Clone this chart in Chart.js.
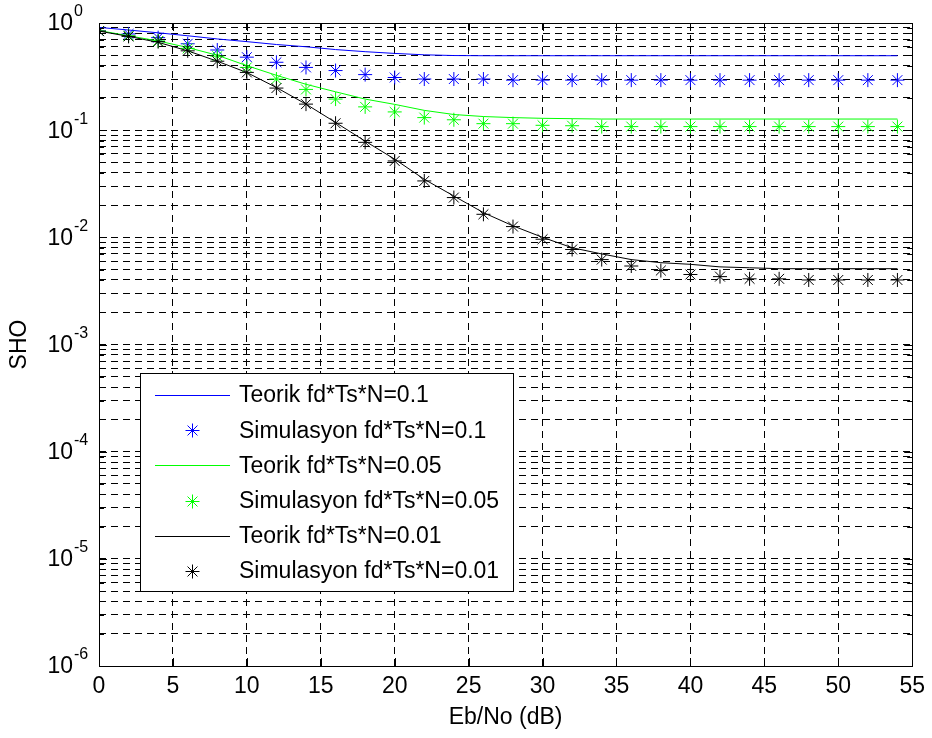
<!DOCTYPE html>
<html>
<head>
<meta charset="utf-8">
<title>SHO</title>
<script src="https://cdn.jsdelivr.net/npm/chart.js@4.4.0/dist/chart.umd.min.js"></script>
<style>
  html, body { margin: 0; padding: 0; background: #fff; }
</style>
</head>
<body>
<canvas id="sho" width="932" height="738"></canvas>
<script>
// Eb/No (dB) points
const ebno = [0, 2, 4, 6, 8, 10, 12, 14, 16, 18, 20, 22, 24, 26, 28, 30, 32, 34, 36, 38, 40, 42, 44, 46, 48, 50, 52, 54];

// fd*Ts*N = 0.1
const teorik01 = [0.91, 0.86, 0.81, 0.76, 0.71, 0.67, 0.63, 0.60, 0.565, 0.54, 0.52, 0.505, 0.497, 0.495, 0.495, 0.495, 0.495, 0.495, 0.495, 0.495, 0.495, 0.495, 0.495, 0.495, 0.495, 0.495, 0.495, 0.495];
const sim01 = [0.84, 0.79, 0.73, 0.64, 0.56, 0.48, 0.43, 0.385, 0.36, 0.33, 0.31, 0.30, 0.30, 0.30, 0.293, 0.293, 0.293, 0.293, 0.293, 0.293, 0.293, 0.293, 0.293, 0.293, 0.293, 0.293, 0.293, 0.293];

// fd*Ts*N = 0.05
const teorik005 = [0.85, 0.76, 0.68, 0.59, 0.50, 0.40, 0.325, 0.268, 0.228, 0.195, 0.174, 0.153, 0.140, 0.134, 0.131, 0.129, 0.128, 0.127, 0.127, 0.127, 0.127, 0.127, 0.127, 0.127, 0.127, 0.127, 0.127, 0.127];
const sim005 = [0.84, 0.76, 0.68, 0.58, 0.49, 0.385, 0.30, 0.24, 0.195, 0.165, 0.148, 0.131, 0.125, 0.115, 0.115, 0.111, 0.110, 0.108, 0.108, 0.108, 0.108, 0.108, 0.108, 0.108, 0.108, 0.108, 0.108, 0.108];

// fd*Ts*N = 0.01
const teorik001 = [0.84, 0.75, 0.66, 0.55, 0.44, 0.345, 0.25, 0.175, 0.118, 0.079, 0.0536, 0.0348, 0.0243, 0.017, 0.0128, 0.0100, 0.0080, 0.0070, 0.0062, 0.0058, 0.0056, 0.0053, 0.0052, 0.0051, 0.0051, 0.0051, 0.0051, 0.0051];
const sim001 = [0.84, 0.75, 0.67, 0.55, 0.44, 0.346, 0.247, 0.175, 0.116, 0.077, 0.0516, 0.0336, 0.0235, 0.0164, 0.0126, 0.0096, 0.0077, 0.0062, 0.0054, 0.0049, 0.0045, 0.0043, 0.0041, 0.0041, 0.0040, 0.0040, 0.0040, 0.0040];

const seriesLabels = [
  'Teorik fd*Ts*N=0.1', 'Simulasyon fd*Ts*N=0.1',
  'Teorik fd*Ts*N=0.05', 'Simulasyon fd*Ts*N=0.05',
  'Teorik fd*Ts*N=0.01', 'Simulasyon fd*Ts*N=0.01'
];

// axis ticks
const xTicks = [0, 5, 10, 15, 20, 25, 30, 35, 40, 45, 50, 55];
const decades = [-6, -5, -4, -3, -2, -1, 0];

const FONT = "'Liberation Sans', Arial, Helvetica, sans-serif";
const BLUE = '#0000ff', GREEN = '#00ff00', BLACK = '#000000';

function pts(arr) {
  return ebno.map((x, i) => ({ x: x, y: arr[i] }));
}

function theoryLine(label, arr, color, order) {
  return { label, data: pts(arr), borderColor: color, backgroundColor: color,
    borderWidth: 1, pointRadius: 0, showLine: true, order };
}
function simPoints(label, arr, color, order) {
  return { label, data: pts(arr), borderColor: color, backgroundColor: color,
    borderWidth: 1, pointStyle: 'star', pointRadius: 7, pointBorderWidth: 1,
    showLine: false, order };
}

// ticks inward, full box, 10^n labels and the legend inside the axes
const matlabAxes = {
  id: 'matlabAxes',
  afterDraw(chart) {
    const ctx = chart.ctx;
    const a = chart.chartArea;
    const xs = chart.scales.x, ys = chart.scales.y;
    ctx.save();
    ctx.strokeStyle = '#000';
    ctx.lineWidth = 1;
    ctx.setLineDash([]);

    // x ticks top/bottom
    ctx.beginPath();
    xTicks.forEach(v => {
      const px = Math.round(xs.getPixelForValue(v)) + 0.5;
      ctx.moveTo(px, a.bottom); ctx.lineTo(px, a.bottom - 8);
      ctx.moveTo(px, a.top); ctx.lineTo(px, a.top + 8);
    });
    // y ticks left/right (minor ones shorter)
    ys.ticks.forEach(t => {
      const py = Math.round(ys.getPixelForValue(t.value)) + 0.5;
      const len = t.major ? 8 : 5;
      ctx.moveTo(a.left, py); ctx.lineTo(a.left + len, py);
      ctx.moveTo(a.right, py); ctx.lineTo(a.right - len, py);
    });
    ctx.stroke();

    // box
    ctx.strokeRect(Math.round(a.left) + 0.5, Math.round(a.top) + 0.5,
      Math.round(a.right - a.left), Math.round(a.bottom - a.top));

    // y labels 10^n
    ctx.fillStyle = '#000';
    decades.forEach(e => {
      const py = ys.getPixelForValue(Math.pow(10, e));
      ctx.font = '23px ' + FONT;
      ctx.textAlign = 'right';
      ctx.textBaseline = 'middle';
      ctx.fillText('10', a.left - 26, py + 1);
      ctx.font = '16px ' + FONT;
      ctx.textAlign = 'left';
      ctx.fillText(String(e), a.left - 25, py - 11);
    });

    // legend
    const lx = 140, ly = 373, rowH = 35.2;
    ctx.font = '23px ' + FONT;
    let maxW = 0;
    seriesLabels.forEach(s => { maxW = Math.max(maxW, ctx.measureText(s).width); });
    const boxW = 99 + maxW + 14;
    const boxH = rowH * seriesLabels.length + 7;
    ctx.fillStyle = '#fff';
    ctx.fillRect(lx, ly, boxW, boxH);
    ctx.strokeStyle = '#000';
    ctx.strokeRect(lx + 0.5, ly + 0.5, Math.round(boxW), Math.round(boxH));

    chart.data.datasets.forEach((ds, i) => {
      const cy = ly + 22 + i * rowH;
      ctx.strokeStyle = ds.borderColor;
      ctx.lineWidth = 1;
      if (ds.showLine) {
        ctx.beginPath();
        ctx.moveTo(155, Math.round(cy) + 0.5);
        ctx.lineTo(230, Math.round(cy) + 0.5);
        ctx.stroke();
      } else {
        Chart.helpers.drawPoint(ctx, { pointStyle: 'star', radius: 7, borderWidth: 1 }, 192.5, Math.round(cy) + 0.5);
      }
      ctx.fillStyle = '#000';
      ctx.textAlign = 'left';
      ctx.textBaseline = 'middle';
      ctx.fillText(ds.label, 239, cy + 1);
    });
    ctx.restore();
  }
};

const ctx = document.getElementById('sho').getContext('2d');
const chart = new Chart(ctx, {
  type: 'line',
  data: {
    datasets: [
      theoryLine(seriesLabels[0], teorik01, BLUE, 5),
      simPoints(seriesLabels[1], sim01, BLUE, 4),
      theoryLine(seriesLabels[2], teorik005, GREEN, 3),
      simPoints(seriesLabels[3], sim005, GREEN, 2),
      theoryLine(seriesLabels[4], teorik001, BLACK, 1),
      simPoints(seriesLabels[5], sim001, BLACK, 0)
    ]
  },
  options: {
    responsive: false,
    animation: false,
    devicePixelRatio: 1,
    layout: { padding: { left: 0, top: 23, right: 17, bottom: 0 } },
    plugins: {
      legend: { display: false },
      tooltip: { enabled: false }
    },
    scales: {
      x: {
        type: 'linear',
        min: 0,
        max: 55,
        afterFit: s => { s.height = 72; },
        afterBuildTicks: s => { s.ticks = xTicks.map(v => ({ value: v })); },
        ticks: { color: '#000', font: { family: FONT, size: 23 }, padding: 7, maxRotation: 0, autoSkip: false },
        grid: { color: '#000', lineWidth: 1, drawTicks: false },
        border: { display: false, dash: [7, 5] },
        title: { display: true, text: 'Eb/No (dB)', color: '#000', font: { family: FONT, size: 23 }, padding: { top: 0, bottom: 7 } }
      },
      y: {
        type: 'logarithmic',
        min: 1e-6,
        max: 1,
        afterFit: s => { s.width = 99; },
        afterBuildTicks: s => {
          const t = [];
          decades.forEach(e => {
            for (let m = 1; m <= 9; m++) {
              if (e === 0 && m > 1) break;
              t.push({ value: m * Math.pow(10, e), major: m === 1 });
            }
          });
          s.ticks = t;
        },
        ticks: { display: false, autoSkip: false },
        grid: { color: '#000', lineWidth: 1, drawTicks: false },
        border: { display: false, dash: [7, 5] },
        title: { display: true, text: 'SHO', color: '#000', font: { family: FONT, size: 23 }, padding: { top: 6, bottom: 0 } }
      }
    }
  },
  plugins: [matlabAxes]
});
</script>
</body>
</html>
